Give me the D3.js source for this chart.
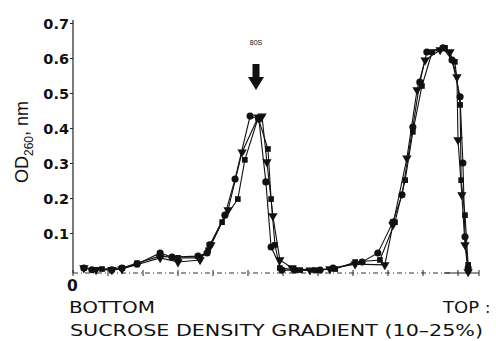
<!DOCTYPE html>
<html>
<head>
<meta charset="utf-8">
<script src="https://cdn.jsdelivr.net/npm/d3@7"></script>
<style>
  body { margin: 0; background: #fff; }
  svg { display: block; }
  text { font-family: "Liberation Sans", Arial, sans-serif; fill: #111; }
  .wide { font-family: "DejaVu Sans", sans-serif; }
</style>
</head>
<body>
<div id="chart"></div>
<script>
// fraction positions (x) and OD260 values (y) for each run
const circleX = [0.31, 0.54, 1.11, 1.4, 1.83, 2.49, 2.83, 3.57, 3.83, 3.91, 4.34, 4.63, 5.06, 5.31, 5.51, 5.66, 5.97, 6.34, 7.06, 7.43, 8.26, 8.71, 9.14, 9.4, 9.71, 9.91, 10.11, 10.57, 10.83, 11.06, 11.14, 11.2, 11.29]
const circleY = [0.0, -0.005, -0.005, 0.0, 0.011, 0.043, 0.031, 0.034, 0.043, 0.066, 0.151, 0.254, 0.434, 0.425, 0.246, 0.06, -0.006, -0.006, -0.006, 0.0, 0.017, 0.043, 0.131, 0.209, 0.403, 0.531, 0.617, 0.629, 0.594, 0.489, 0.3, 0.089, 0.0]

const squareX = [0.31, 0.83, 1.4, 1.83, 2.49, 3.0, 3.63, 3.86, 4.26, 4.71, 4.91, 5.29, 5.57, 5.66, 5.77, 5.91, 6.49, 6.91, 7.49, 8.06, 8.77, 9.2, 9.49, 9.71, 9.97, 10.26, 10.63, 10.91, 11.06, 11.09, 11.2, 11.29]
const squareY = [0.0, -0.003, 0.0, 0.014, 0.034, 0.029, 0.029, 0.051, 0.131, 0.197, 0.309, 0.429, 0.34, 0.197, 0.066, 0.0, -0.006, -0.006, -0.003, 0.017, 0.023, 0.131, 0.251, 0.389, 0.52, 0.617, 0.629, 0.589, 0.466, 0.251, 0.151, 0.009]

const triangleX = [0.31, 0.66, 1.11, 1.4, 2.49, 3.0, 3.63, 3.94, 4.43, 4.83, 5.29, 5.4, 5.54, 5.71, 5.91, 6.26, 6.77, 7.34, 8.06, 8.91, 9.14, 9.54, 9.83, 10.06, 10.49, 10.77, 10.97, 11.0, 11.11, 11.2, 11.29]
const triangleY = [0.0, -0.005, -0.005, -0.003, 0.029, 0.017, 0.023, 0.066, 0.166, 0.331, 0.431, 0.434, 0.303, 0.149, 0.023, 0.0, -0.006, -0.003, 0.011, 0.009, 0.123, 0.314, 0.509, 0.594, 0.623, 0.617, 0.546, 0.366, 0.209, 0.066, -0.011]

const yTicks = [0.1, 0.2, 0.3, 0.4, 0.5, 0.6, 0.7]
const xTicks = d3.range(0, 12)

const svgWidth = 496
const svgHeight = 341

const svg = d3.select('#chart').append('svg').attr('width', svgWidth).attr('height', svgHeight)

// scales
const x = d3.scaleLinear().domain([0, 11.6]).range([73, 479])
const y = d3.scaleLinear().domain([0, 0.7]).range([268, 23])
const axisY = 273

// y axis
const leftAxis = d3.axisLeft(y).tickValues(yTicks).tickSize(3).tickFormat(d3.format('.1f'))
const gy = svg.append('g').attr('transform', 'translate(73,0)').call(leftAxis)
gy.select('.domain').remove()
gy.selectAll('.tick line').attr('stroke', '#222')
gy.selectAll('.tick text').attr('class', 'wide').attr('x', -4).attr('dy', '0.36em')
  .style('font-size', '14.5px').style('font-weight', 'bold')
svg.append('line').attr('x1', 73).attr('x2', 73).attr('y1', 20).attr('y2', axisY)
  .attr('stroke', '#222').attr('stroke-width', 1.2)

// x axis (dotted baseline with crossing ticks)
svg.append('line').attr('x1', 73).attr('x2', x(10.8)).attr('y1', axisY).attr('y2', axisY)
  .attr('stroke', '#333').attr('stroke-width', 1).attr('stroke-dasharray', '5,3,1,3')
svg.append('line').attr('x1', x(10.6)).attr('x2', x(11.6)).attr('y1', axisY).attr('y2', axisY)
  .attr('stroke', '#222').attr('stroke-width', 1.2)
svg.append('g').selectAll('line').data(xTicks.concat([11.6])).enter().append('line')
  .attr('x1', d => x(d)).attr('x2', d => x(d))
  .attr('y1', axisY - 3).attr('y2', axisY + 3)
  .attr('stroke', '#222').attr('stroke-width', 1)

// series
const series = [
  { xs: circleX, ys: circleY, shape: d3.symbolCircle, size: 40 },
  { xs: squareX, ys: squareY, shape: d3.symbolSquare, size: 32 },
  { xs: triangleX, ys: triangleY, shape: d3.symbolTriangle, size: 38, flip: true }
]
const line = d3.line().x(d => x(d[0])).y(d => y(d[1]))

series.forEach(s => {
  const pts = s.xs.map((v, i) => [v, s.ys[i]])
  svg.append('path').datum(pts).attr('d', line)
    .attr('fill', 'none').attr('stroke', '#111').attr('stroke-width', 1.1)
  svg.append('g').selectAll('path').data(pts).enter().append('path')
    .attr('d', d3.symbol().type(s.shape).size(s.size))
    .attr('transform', d => `translate(${x(d[0])},${y(d[1])})` + (s.flip ? ' rotate(180)' : ''))
    .attr('fill', '#111')
})

// 80S marker
svg.append('text').attr('x', 256).attr('y', 45).attr('text-anchor', 'middle')
  .style('font-size', '7px').text('80S')
svg.append('path')
  .attr('d', 'M252.5,64 L259.5,64 L259.5,77 L264,77 L256,90 L248,77 L252.5,77 Z')
  .attr('fill', '#111')

// axis titles
svg.append('text').attr('transform', 'translate(28,142) rotate(-90)')
  .attr('text-anchor', 'middle').style('font-size', '18px')
  .html('OD<tspan dy="5" style="font-size:12px">260</tspan><tspan dy="-5">, nm</tspan>')
svg.append('text').attr('class', 'wide').attr('x', 67).attr('y', 291)
  .style('font-size', '15.5px').style('font-weight', 'bold').text('0')
svg.append('text').attr('class', 'wide').attr('x', 69).attr('y', 313)
  .attr('textLength', 86).attr('lengthAdjust', 'spacingAndGlyphs')
  .style('font-size', '16px').text('BOTTOM')
svg.append('text').attr('class', 'wide').attr('x', 443).attr('y', 313)
  .attr('textLength', 36).attr('lengthAdjust', 'spacingAndGlyphs')
  .style('font-size', '16px').text('TOP')
svg.append('text').attr('class', 'wide').attr('x', 485).attr('y', 313).style('font-size', '16px').text(':')
svg.append('text').attr('class', 'wide').attr('x', 70).attr('y', 336)
  .attr('textLength', 413).attr('lengthAdjust', 'spacingAndGlyphs').style('font-size', '16px')
  .text('SUCROSE DENSITY GRADIENT (10\u201325%)')
</script>
</body>
</html>
